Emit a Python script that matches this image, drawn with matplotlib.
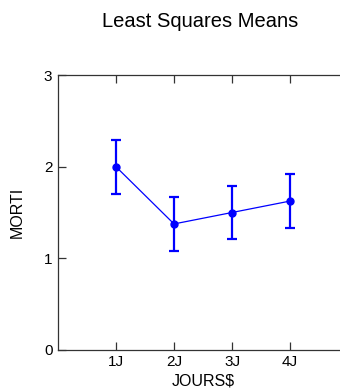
import matplotlib
matplotlib.use("Agg")
import matplotlib.pyplot as plt

categories = ["1J", "2J", "3J", "4J"]
means = [2.0, 1.375, 1.5, 1.625]
errors = [0.295, 0.295, 0.295, 0.295]
yticks = [0, 1, 2, 3]

plt.rcParams['font.family'] = ['Liberation Sans', 'DejaVu Sans']

fig = plt.figure(figsize=(3.4, 3.92), dpi=100)
ax = fig.add_axes([0.1706, 0.1079, 0.853, 0.700])

x = list(range(1, len(categories) + 1))
ax.plot(x, means, color='#0000ff', lw=0.9, zorder=3)
ax.errorbar(x, means, yerr=errors, fmt='o', color='#0000ff', ms=5,
            elinewidth=1.6, capsize=3.5, capthick=1.6, zorder=4)

ax.set_xlim(0, 5)
ax.set_ylim(0, 3)
ax.set_xticks(x)
ax.set_xticklabels(categories, fontsize=11)
ax.set_yticks(yticks)
ax.set_yticklabels([str(v) for v in yticks], fontsize=11)
ax.tick_params(direction='in', length=6, width=0.9, color='#333333',
               top=True, right=True, pad=4)
for s in ax.spines.values():
    s.set_color('#333333')
    s.set_linewidth(0.9)

ax.set_xlabel('JOURS$', fontsize=11.5, labelpad=3)
ax.set_ylabel('MORTI', fontsize=11.5, labelpad=14)

fig.text(0.588, 0.922, 'Least Squares Means', ha='center', va='bottom', fontsize=14.5)

fig.savefig('out.png', dpi=100)
